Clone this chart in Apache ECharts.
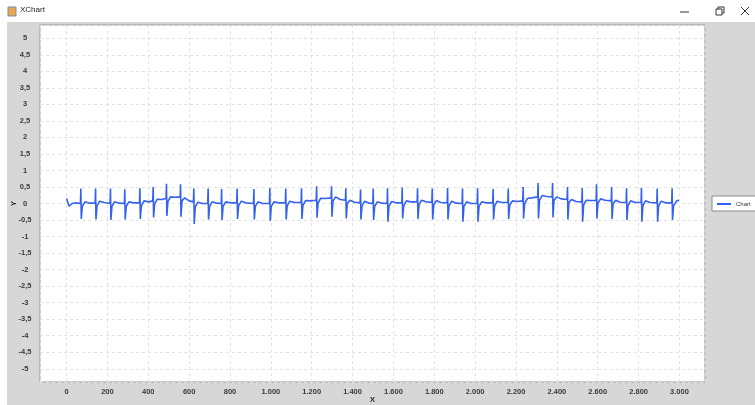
<!doctype html>
<html>
	<head>
		<meta charset="UTF-8">
		<title>XChart</title>
		<script src="https://cdn.jsdelivr.net/npm/echarts@6/dist/echarts.min.js"></script>
		<style>
			html, body{
				margin: 0;
				padding: 0;
				background: #fff;
			}
			#main{
				width: 755px;
				height: 405px;
			}
		</style>
	</head>
	<body>
		<div id="main"></div>
		<script type="text/javascript">
			// signal, one line per beat
			var sigX = [
				0, 4, 12, 28, 45,
				68, 70, 72, 77, 90, 112,
				140, 142, 144, 149, 162, 184,
				213, 215, 217, 222, 235, 257,
				283, 285, 287, 292, 305, 327,
				357, 359, 361, 366, 379, 401,
				422, 424, 426, 431, 444, 466,
				487, 489, 491, 496, 509, 531,
				556, 558, 560, 565, 578, 600,
				621, 623, 625, 630, 643, 665,
				691, 693, 695, 700, 713, 735,
				757, 759, 761, 766, 779, 801,
				833, 835, 837, 842, 855, 877,
				915, 917, 919, 924, 937, 959,
				993, 995, 997, 1002, 1015, 1037,
				1071, 1073, 1075, 1080, 1093, 1115,
				1148, 1150, 1152, 1157, 1170, 1192,
				1222, 1224, 1226, 1231, 1244, 1266,
				1295, 1297, 1299, 1304, 1317, 1339,
				1365, 1367, 1369, 1374, 1387, 1409,
				1437, 1439, 1441, 1446, 1459, 1481,
				1499, 1501, 1503, 1508, 1521, 1543,
				1569, 1571, 1573, 1578, 1591, 1613,
				1641, 1643, 1645, 1650, 1663, 1685,
				1716, 1718, 1720, 1725, 1738, 1760,
				1788, 1790, 1792, 1797, 1810, 1832,
				1863, 1865, 1867, 1872, 1885, 1907,
				1936, 1938, 1940, 1945, 1958, 1980,
				2010, 2012, 2014, 2019, 2032, 2054,
				2086, 2088, 2090, 2095, 2108, 2130,
				2160, 2162, 2164, 2169, 2182, 2204,
				2233, 2235, 2237, 2242, 2255, 2277,
				2306, 2308, 2310, 2315, 2328, 2350,
				2377, 2379, 2381, 2386, 2399, 2421,
				2450, 2452, 2454, 2459, 2472, 2494,
				2522, 2524, 2526, 2531, 2544, 2566,
				2592, 2594, 2596, 2601, 2614, 2636,
				2666, 2668, 2670, 2675, 2688, 2710,
				2739, 2741, 2743, 2748, 2761, 2783,
				2812, 2814, 2816, 2821, 2834, 2856,
				2889, 2891, 2893, 2898, 2911, 2933,
				2962, 2964, 2966, 2971, 2986, 2998
			];
			var sigY = [
				0.15, 0.1, -0.08, 0.0, 0.02,
				0, 0.45, -0.47, -0.09, 0.05, 0.01,
				0.02, 0.45, -0.48, -0.07, 0.07, 0.03,
				0, 0.45, -0.5, -0.09, 0.05, 0.01,
				0, 0.43, -0.48, -0.09, 0.05, 0.02,
				0.02, 0.46, -0.47, -0.07, 0.08, 0.05,
				0.08, 0.5, -0.42, -0.01, 0.13, 0.12,
				0.15, 0.6, -0.38, 0.06, 0.2, 0.19,
				0.2, 0.58, -0.4, 0.08, 0.17, 0.08,
				0.05, 0.45, -0.62, -0.1, 0.04, 0.0,
				0, 0.45, -0.48, -0.09, 0.05, 0.01,
				0, 0.44, -0.5, -0.09, 0.05, 0.02,
				0.02, 0.45, -0.47, -0.07, 0.07, 0.02,
				0, 0.44, -0.48, -0.09, 0.05, 0.0,
				0, 0.46, -0.52, -0.09, 0.05, 0.02,
				0.02, 0.45, -0.48, -0.07, 0.07, 0.03,
				0.03, 0.46, -0.47, -0.06, 0.09, 0.08,
				0.1, 0.52, -0.43, 0.01, 0.16, 0.15,
				0.17, 0.52, -0.4, 0.07, 0.2, 0.12,
				0.1, 0.46, -0.45, 0.0, 0.1, 0.04,
				0.02, 0.42, -0.48, -0.07, 0.07, 0.01,
				0, 0.45, -0.5, -0.09, 0.05, 0.01,
				0, 0.46, -0.55, -0.09, 0.06, 0.02,
				0.02, 0.48, -0.45, -0.07, 0.08, 0.05,
				0.05, 0.46, -0.47, -0.04, 0.1, 0.05,
				0.04, 0.45, -0.48, -0.05, 0.09, 0.03,
				0.02, 0.47, -0.48, -0.07, 0.07, 0.01,
				0, 0.45, -0.55, -0.09, 0.05, 0.0,
				0, 0.46, -0.55, -0.09, 0.05, 0.02,
				0.02, 0.44, -0.48, -0.07, 0.07, 0.03,
				0.03, 0.45, -0.47, -0.06, 0.08, 0.06,
				0.08, 0.5, -0.45, -0.01, 0.15, 0.17,
				0.2, 0.62, -0.45, 0.1, 0.24, 0.21,
				0.2, 0.62, -0.42, 0.1, 0.2, 0.14,
				0.12, 0.5, -0.48, 0.03, 0.12, 0.06,
				0.05, 0.47, -0.55, -0.04, 0.1, 0.09,
				0.1, 0.58, -0.45, 0.01, 0.14, 0.1,
				0.08, 0.5, -0.47, -0.01, 0.1, 0.04,
				0.03, 0.46, -0.5, -0.06, 0.08, 0.03,
				0.03, 0.47, -0.55, -0.06, 0.08, 0.03,
				0.02, 0.45, -0.55, -0.07, 0.07, 0.02,
				0.02, 0.46, -0.5, -0.07, 0.08, 0.1
			];
			var seriesName = 'Chart';
			var windowTitle = 'XChart';

			var points = sigX.map(function(x, i){
				return [x, sigY[i]];
			});

			function fmtX(v){
				if(Math.abs(v) >= 1000){
					var s = String(Math.round(v));
					return s.slice(0, s.length - 3) + '.' + s.slice(s.length - 3);
				}
				return String(v);
			}
			function fmtY(v){
				return String(Math.round(v * 10) / 10).replace('.', ',');
			}

			var font = 'Liberation Sans, Arial, sans-serif';
			var chart = echarts.init(document.getElementById('main'), null, {renderer: 'canvas'});
			chart.setOption({
				animation: false,
				backgroundColor: '#fff',
				graphic: [
					{type: 'rect', z: -10, shape: {x: 7, y: 22, width: 748, height: 383}, style: {fill: '#d7d7d7'}},
					{type: 'rect', z: -9, shape: {x: 8, y: 7, width: 8, height: 9}, style: {fill: '#e9a64a', stroke: '#6d8fc4', lineWidth: 1}},
					{type: 'text', left: 20, top: 6, style: {text: windowTitle, fontSize: 8, fontFamily: font, fill: '#222'}},
					{type: 'line', shape: {x1: 680, y1: 12, x2: 689, y2: 12}, style: {stroke: '#333', lineWidth: 1}},
					{type: 'rect', shape: {x: 716, y: 9, width: 6, height: 6}, style: {fill: 'none', stroke: '#333', lineWidth: 1}},
					{type: 'polyline', shape: {points: [[718, 9], [718, 7], [724, 7], [724, 13], [722, 13]]}, style: {fill: 'none', stroke: '#333', lineWidth: 1}},
					{type: 'line', shape: {x1: 741, y1: 7, x2: 749, y2: 15}, style: {stroke: '#333', lineWidth: 1}},
					{type: 'line', shape: {x1: 749, y1: 7, x2: 741, y2: 15}, style: {stroke: '#333', lineWidth: 1}}
				],
				grid: {
					left: 40, top: 25, right: 50, bottom: 23,
					containLabel: false,
					outerBoundsMode: 'none',
					show: true,
					backgroundColor: '#fff',
					borderColor: '#9a9a9a',
					borderWidth: 1
				},
				legend: {
					left: 712, top: 196,
					data: [seriesName],
					icon: 'rect',
					itemWidth: 14, itemHeight: 2,
					itemGap: 4,
					padding: [5, 20, 4, 5],
					backgroundColor: '#fff',
					borderColor: '#8a8a8a',
					borderWidth: 1,
					borderRadius: 0,
					textStyle: {fontSize: 6, color: '#333', fontFamily: font}
				},
				xAxis: {
					type: 'value',
					min: -130, max: 3125,
					splitNumber: 16,
					name: 'X',
					nameLocation: 'middle',
					nameGap: 14,
					nameMoveOverlap: false,
					nameTextStyle: {fontSize: 8, fontWeight: 'bold', color: '#333', fontFamily: font},
					axisLine: {show: false},
					axisTick: {show: false},
					axisLabel: {
						showMinLabel: false, showMaxLabel: false,
						margin: 6, fontSize: 7.5, fontWeight: 'bold', color: '#3a3a3a', fontFamily: font,
						formatter: fmtX
					},
					splitLine: {lineStyle: {color: '#e2e2e2', type: [3, 3], width: 1}}
				},
				yAxis: {
					type: 'value',
					min: -5.4, max: 5.4,
					splitNumber: 22,
					name: 'Y',
					nameLocation: 'middle',
					nameRotate: 90,
					nameGap: 22,
					nameMoveOverlap: false,
					nameTextStyle: {fontSize: 8, fontWeight: 'bold', color: '#333', fontFamily: font},
					axisLine: {show: false},
					axisTick: {show: false},
					axisLabel: {
						showMinLabel: false, showMaxLabel: false,
						margin: 15, align: 'center', fontSize: 7.5, fontWeight: 'bold', color: '#3a3a3a', fontFamily: font,
						formatter: fmtY
					},
					splitLine: {lineStyle: {color: '#e2e2e2', type: [3, 3], width: 1}}
				},
				series: [{
					name: seriesName,
					type: 'line',
					data: points,
					showSymbol: false,
					symbol: 'none',
					itemStyle: {color: '#3561f3'},
					lineStyle: {color: '#3561f3', width: 1.6}
				}]
			});
		</script>
	</body>
</html>
